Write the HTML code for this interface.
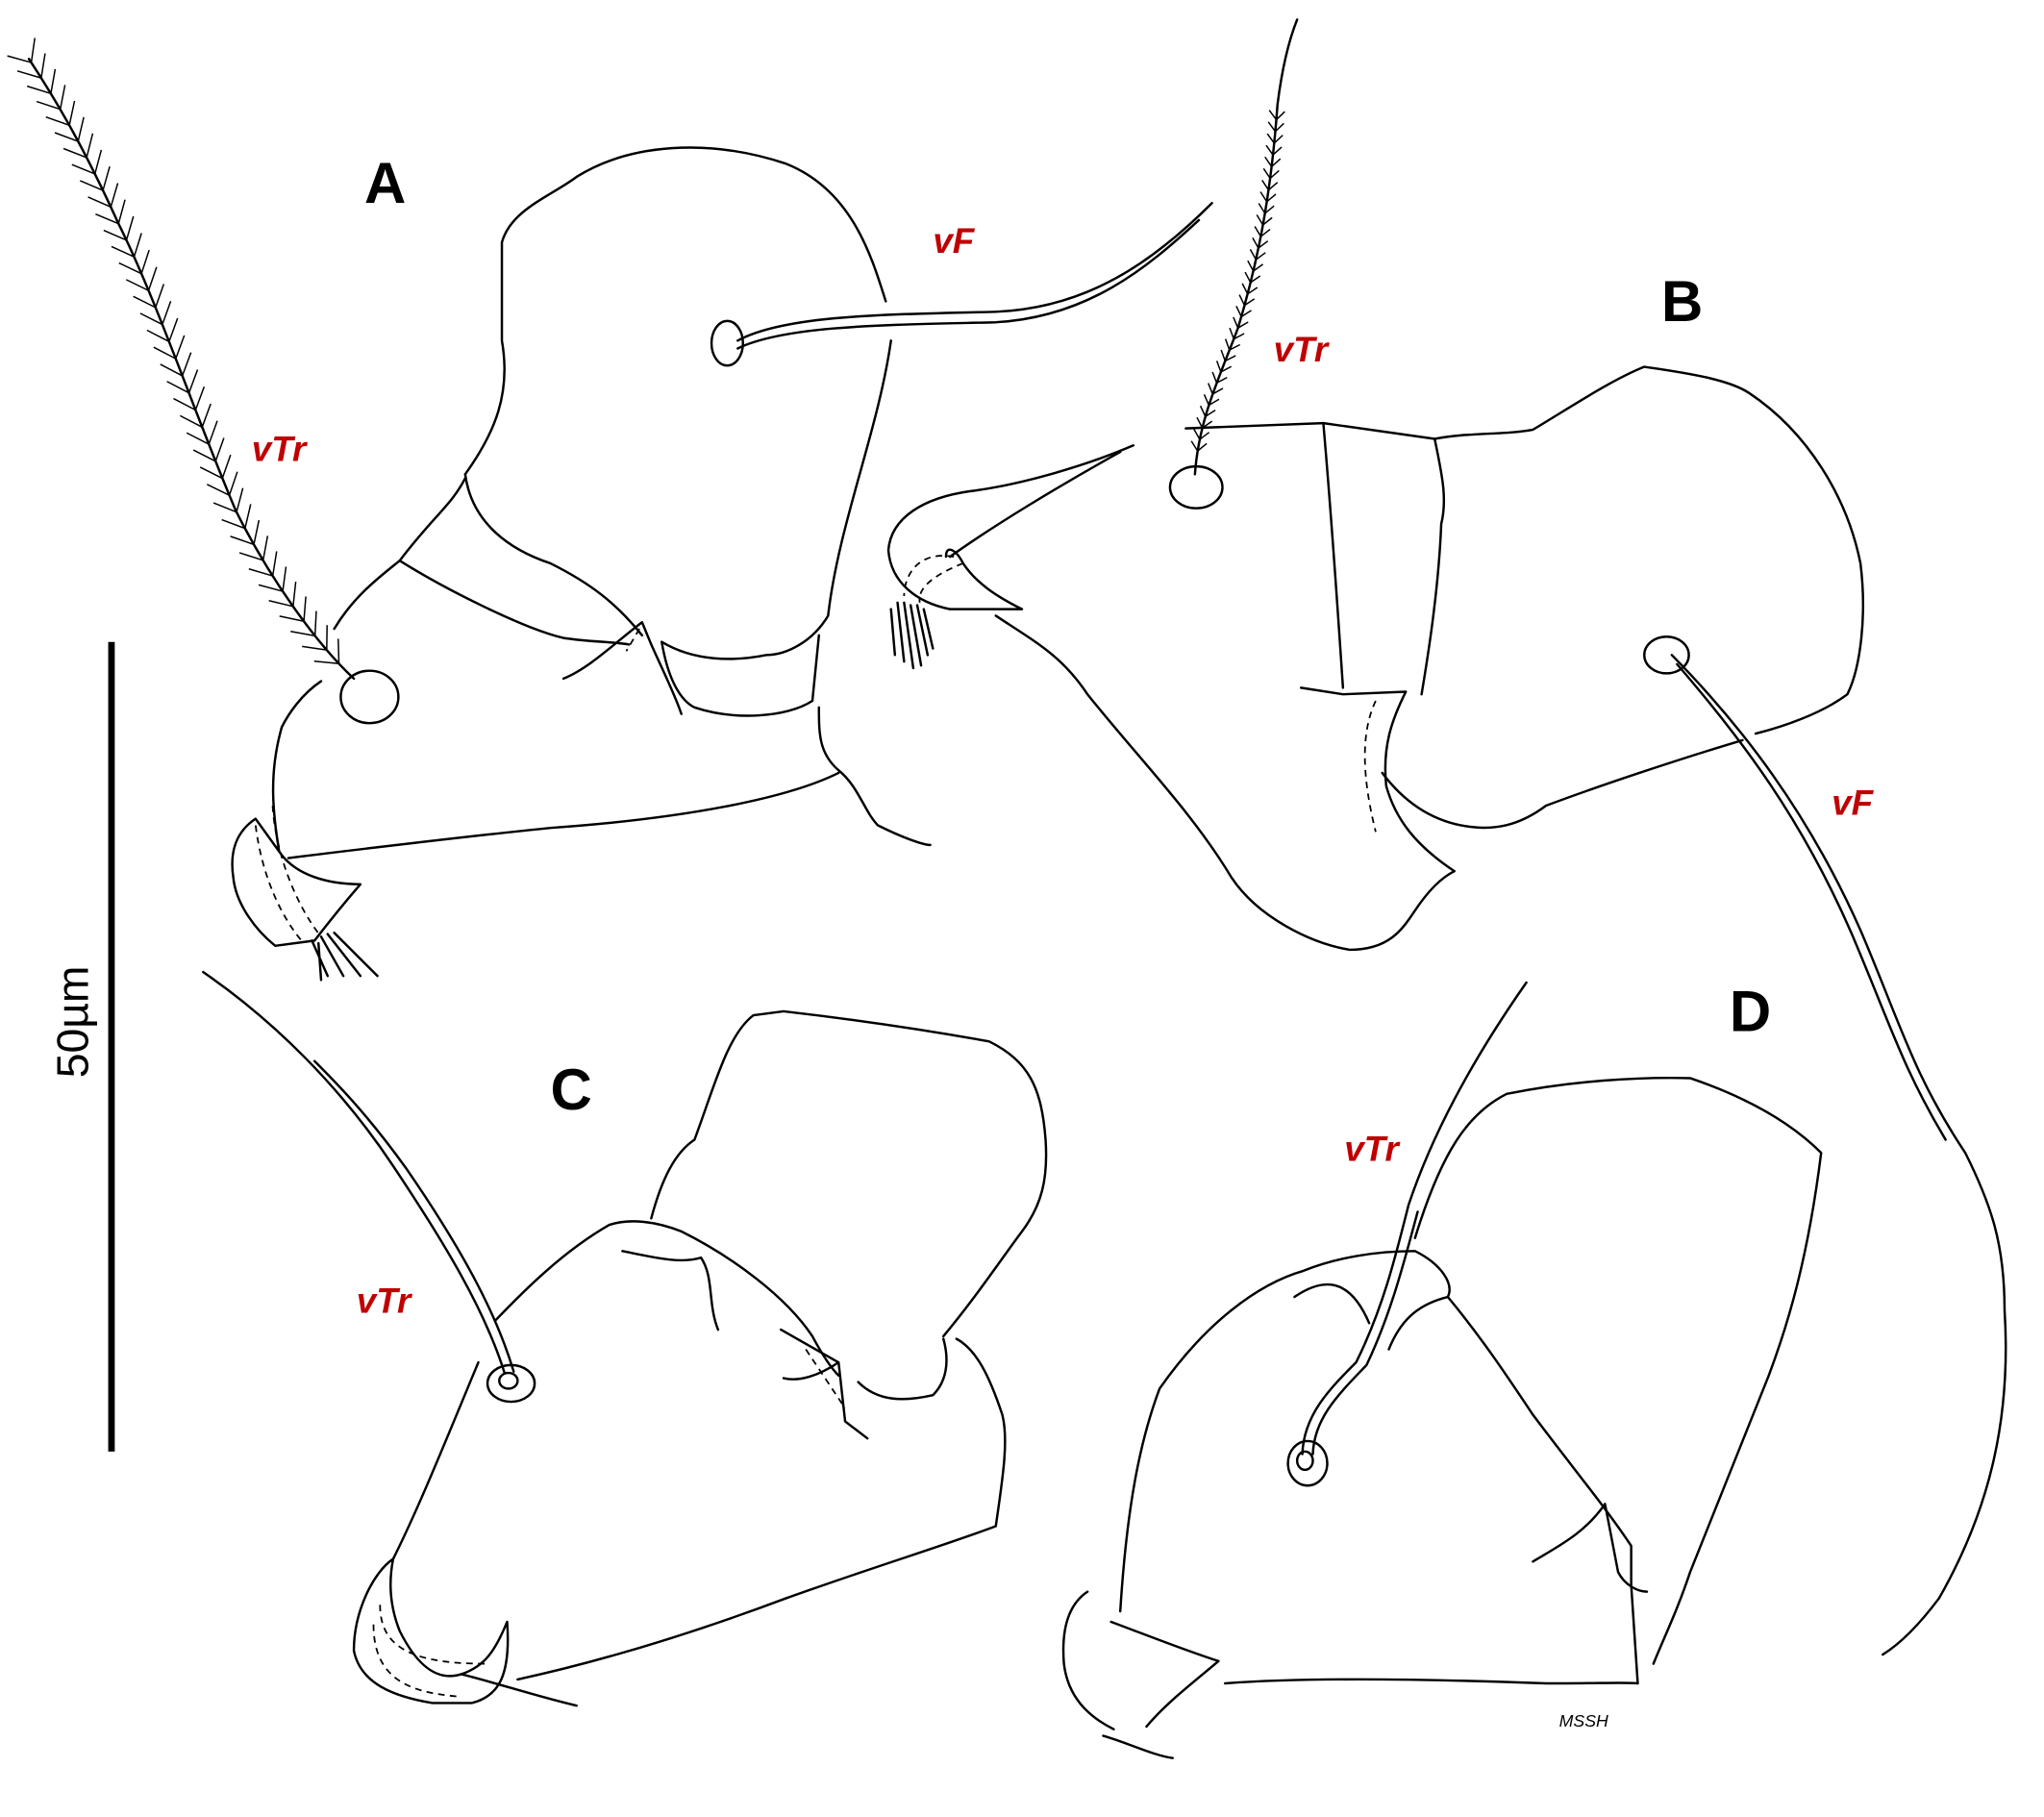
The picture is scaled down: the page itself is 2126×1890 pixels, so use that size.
<!DOCTYPE html>
<html><head><meta charset="utf-8">
<style>
html,body{margin:0;padding:0;background:#fff;}
svg{display:block;}
.l{fill:none;stroke:#000;stroke-width:1.8;stroke-linecap:round;stroke-linejoin:round;}
.d{fill:none;stroke:#000;stroke-width:1.3;stroke-dasharray:5 4;}
.lab{font-family:"Liberation Sans",sans-serif;font-weight:bold;font-size:44px;fill:#000;}
.red{font-family:"Liberation Sans",sans-serif;font-weight:bold;font-style:italic;font-size:27px;fill:#c00000;}
</style></head>
<body>
<svg id="s" width="2126" height="1890" viewBox="0 0 1560 1387" xmlns="http://www.w3.org/2000/svg">
<rect width="1560" height="1387" fill="#fff"/>
<line x1="85" y1="490" x2="85" y2="1108" stroke="#000" stroke-width="5"/>
<text x="67" y="780" transform="rotate(-90 67 780)" text-anchor="middle" font-family="Liberation Sans, sans-serif" font-size="34">50µm</text>

<text class="lab" x="278" y="155">A</text>
<text class="lab" x="1268" y="245">B</text>
<text class="lab" x="420" y="847">C</text>
<text class="lab" x="1320" y="787">D</text>
<text class="red" x="712" y="193">vF</text>
<text class="red" x="192" y="352">vTr</text>
<text class="red" x="972" y="276">vTr</text>
<text class="red" x="1398" y="622">vF</text>
<text class="red" x="272" y="1002">vTr</text>
<text class="red" x="1026" y="886">vTr</text>
<text x="1190" y="1318" font-family="Liberation Sans, sans-serif" font-style="italic" font-size="13">MSSH</text>

<!-- Panel A -->
<path class="l" d="M355,362 C378,330 390,300 383,260 L383,185 C390,160 420,150 440,135 C480,110 540,105 600,125 C650,145 665,195 676,230"/>
<path class="l" d="M680,260 C670,330 640,400 632,470 C620,490 600,500 585,500 C560,505 530,505 505,490"/>
<path class="l" d="M355,362 C360,400 390,420 420,430 C450,445 470,460 490,485"/>
<ellipse class="l" cx="555" cy="262" rx="12" ry="17"/>
<path class="l" d="M563,260 C600,240 680,240 760,238 C830,235 880,200 925,155"/>
<path class="l" d="M563,266 C600,248 680,248 760,246 C830,242 875,205 915,168"/>
<path class="l" d="M305,428 C330,395 345,385 355,365"/>
<path class="l" d="M305,428 C340,450 400,480 430,487 C450,490 470,490 480,492"/>
<path class="l" d="M255,480 C270,455 290,440 305,428"/>
<path class="l" d="M430,518 C450,510 470,490 490,475 L497,492 C505,510 515,530 520,545"/>
<path class="d" d="M488,480 L478,497"/>
<path class="l" d="M505,490 C510,520 520,535 530,540 C560,550 600,548 620,535 L625,485"/>
<path class="l" d="M625,540 C625,560 625,575 640,588 C655,600 660,620 670,630 C690,640 705,645 710,645"/>
<path class="l" d="M640,590 C600,610 520,625 420,632 C360,638 260,650 220,655"/>
<ellipse class="l" cx="282" cy="532" rx="22" ry="20"/>
<path class="l" d="M245,520 C230,530 220,545 215,555 C205,590 208,620 213,650 C225,668 250,675 275,675 C262,690 250,705 240,718 L210,722 C195,710 180,690 178,670 C175,650 180,635 195,625 L213,650"/>
<path class="d" d="M208,615 C210,650 225,690 245,715"/>
<path class="d" d="M195,630 C200,670 215,700 230,718"/>
<path class="l" d="M238,718 L250,745 M245,715 L262,745 M250,713 L275,745 M255,712 L288,745 M243,720 L245,748"/>
<path id="sA" class="l" d="M270,518 C240,490 205,440 180,390 C150,320 120,230 90,170 C65,115 45,80 22,45"/>

<!-- Panel B -->
<path class="l" d="M905,327 L1010,323 L1095,335 C1120,330 1150,332 1170,328 C1200,310 1230,290 1255,280 C1290,285 1320,290 1335,300 C1380,330 1410,380 1420,430 C1425,470 1420,510 1410,530 C1390,545 1360,555 1340,560"/>
<path class="l" d="M1330,565 C1280,580 1220,600 1180,615 C1160,630 1140,635 1115,630 C1090,625 1070,610 1055,590"/>
<path class="l" d="M1095,335 C1100,360 1105,380 1100,400 C1098,450 1090,500 1085,530"/>
<path class="l" d="M1010,323 C1015,380 1020,450 1025,525"/>
<path class="l" d="M993,525 L1025,530 L1073,528 C1062,550 1055,570 1058,600 C1065,625 1080,645 1110,665"/>
<path class="d" d="M1050,535 C1038,560 1040,595 1050,635"/>
<path class="l" d="M760,470 C790,490 810,500 830,530 C870,580 910,620 940,670 C960,700 1000,720 1030,725 C1060,725 1070,710 1080,695 C1090,680 1100,670 1110,665"/>
<path class="l" d="M865,340 C830,355 780,370 740,375 C705,380 680,395 678,420 C680,445 700,460 725,465 L780,465 C760,455 745,445 735,430 C730,420 722,415 722,425"/>
<path class="l" d="M855,345 C810,370 760,400 725,425"/>
<path class="d" d="M735,430 C710,440 700,450 702,460"/>
<path class="d" d="M728,425 C700,420 690,440 690,455"/>
<path class="l" d="M685,460 L690,505 M690,460 L697,510 M695,462 L703,508 M700,462 L708,500 M705,465 L712,495 M680,465 L683,500"/>
<ellipse class="l" cx="913" cy="372" rx="20" ry="16"/>
<path id="sB" class="l" d="M912,362 C915,320 930,290 945,250 C960,200 970,150 975,80 C980,40 988,20 990,15"/>
<ellipse class="l" cx="1272" cy="500" rx="17" ry="14"/>
<path class="l" d="M1276,500 C1330,555 1380,620 1420,710 C1450,780 1460,820 1500,880 C1520,920 1530,950 1530,1000 C1535,1080 1520,1150 1480,1220 C1465,1240 1450,1255 1437,1263"/>
<path class="l" d="M1280,507 C1330,565 1375,625 1413,712 C1442,780 1452,815 1485,870"/>

<!-- Panel C -->
<path class="l" d="M497,930 C505,900 515,880 530,870 C545,830 555,790 575,775 L598,772 C650,778 700,785 755,795 C785,810 795,830 798,870 C800,900 795,920 780,940 C765,960 745,990 720,1020"/>
<path class="l" d="M378,1008 C400,985 430,955 465,935 C480,930 500,932 520,940 C560,960 600,990 620,1020 C628,1035 635,1045 640,1050"/>
<path class="l" d="M365,1040 C340,1100 320,1150 300,1190"/>
<path class="l" d="M395,1282 C450,1270 520,1250 600,1220 C670,1195 720,1180 760,1165 C765,1130 770,1100 765,1080 C755,1050 745,1030 730,1022"/>
<path class="l" d="M720,1022 C725,1040 722,1055 712,1065 C690,1070 670,1070 655,1055"/>
<path class="l" d="M596,1015 L640,1040 L645,1085 L662,1098 M640,1040 C625,1050 610,1055 598,1052"/>
<path class="d" d="M615,1030 L645,1075"/>
<path class="l" d="M475,955 C500,960 520,965 535,960 C545,975 540,995 548,1015"/>
<path class="l" d="M300,1190 C285,1200 270,1230 270,1260 C275,1285 300,1295 330,1300 L360,1300 C380,1295 390,1280 387,1238 C378,1260 370,1272 352,1278 C330,1285 315,1265 305,1245 C295,1220 298,1200 300,1190"/>
<path class="l" d="M352,1278 C380,1285 410,1295 440,1302"/>
<path class="d" d="M290,1225 C290,1255 310,1270 370,1270"/>
<path class="d" d="M285,1240 C285,1280 310,1292 350,1295"/>
<ellipse class="l" cx="390" cy="1056" rx="18" ry="14"/>
<ellipse class="l" cx="388" cy="1054" rx="7" ry="6"/>
<path class="l" d="M385,1048 C370,1000 340,950 300,890 C260,830 210,780 155,742"/>
<path class="l" d="M392,1047 C378,1000 350,950 310,892 C280,850 255,825 240,810"/>

<!-- Panel D -->
<path class="l" d="M1080,945 C1100,880 1120,850 1150,835 C1200,825 1250,822 1290,823 C1340,840 1370,860 1390,880 C1380,960 1365,1010 1350,1050 C1330,1100 1310,1150 1290,1200 C1280,1230 1270,1250 1262,1270"/>
<path class="l" d="M855,1230 C860,1150 870,1100 885,1060 C920,1010 960,980 995,970 C1020,960 1050,955 1080,955 C1100,965 1110,980 1105,990 C1130,1020 1150,1050 1170,1080 C1200,1120 1225,1150 1245,1180 L1245,1210 L1250,1285"/>
<path class="l" d="M935,1285 C1000,1280 1100,1282 1180,1285 C1220,1285 1245,1284 1250,1285"/>
<path class="l" d="M848,1238 C880,1250 905,1260 930,1268 C910,1285 890,1300 875,1318"/>
<path class="l" d="M1170,1192 C1190,1180 1210,1170 1225,1148 L1235,1200 C1240,1210 1250,1215 1257,1215"/>
<path class="l" d="M830,1215 C815,1225 810,1245 812,1270 C815,1295 830,1310 850,1320"/>
<path class="l" d="M842,1325 C860,1330 880,1340 895,1342"/>
<path class="l" d="M1060,1030 C1070,1005 1085,995 1105,990"/>
<path class="l" d="M988,990 C1010,975 1030,975 1045,1010"/>
<ellipse class="l" cx="998" cy="1117" rx="15" ry="17"/>
<ellipse class="l" cx="996" cy="1115" rx="6" ry="7"/>
<path class="l" d="M994,1110 C995,1080 1015,1060 1035,1040 C1055,1000 1065,960 1075,920 C1095,860 1130,800 1165,750"/>
<path class="l" d="M1002,1110 C1003,1082 1022,1064 1043,1042 C1062,1002 1072,962 1082,925"/>
</svg>
<script>
(function(){
 var ns="http://www.w3.org/2000/svg",svg=document.getElementById("s");
 function barbs(id,start,end,step,len){
  var p=document.getElementById(id),L=p.getTotalLength();
  for(var t=L*start;t<L*end;t+=step){
   var a=p.getPointAtLength(t),b=p.getPointAtLength(Math.min(L,t+1));
   var dx=b.x-a.x,dy=b.y-a.y,m=Math.hypot(dx,dy)||1;dx/=m;dy/=m;
   var nx=-dy,ny=dx;
   [1,-1].forEach(function(s){
    var l=document.createElementNS(ns,"line");
    l.setAttribute("x1",a.x);l.setAttribute("y1",a.y);
    l.setAttribute("x2",a.x+(dx*0.75+s*nx*0.66)*len);
    l.setAttribute("y2",a.y+(dy*0.75+s*ny*0.66)*len);
    l.setAttribute("stroke","#000");l.setAttribute("stroke-width","1.1");
    svg.appendChild(l);
   });
  }
 }
 barbs("sA",0.03,1,14,19);
 barbs("sB",0.05,0.8,9,9);
})();
</script>
</body></html>
